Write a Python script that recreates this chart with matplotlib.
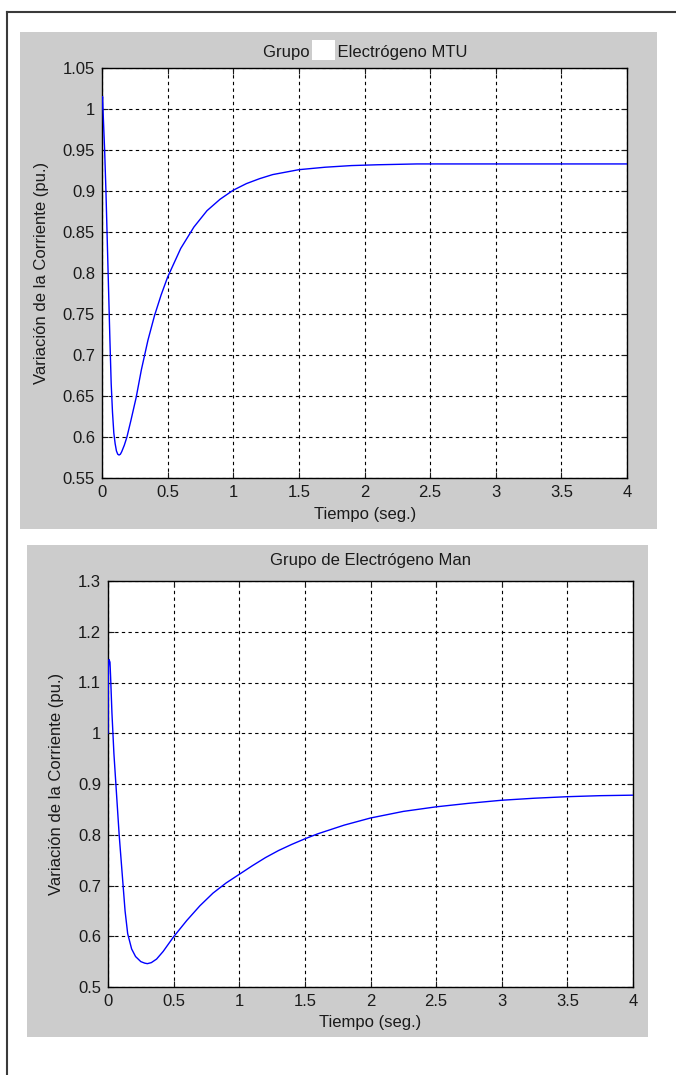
import matplotlib
matplotlib.use("Agg")
import matplotlib.pyplot as plt
from matplotlib.patches import Rectangle
from matplotlib.lines import Line2D

W, H = 676, 1075

# ---- data ----
t_mtu = [0.0, 0.004, 0.01, 0.02, 0.03, 0.04, 0.05, 0.06, 0.07, 0.08, 0.09, 0.10,
         0.11, 0.12, 0.13, 0.14, 0.15, 0.17, 0.19, 0.22, 0.26, 0.30, 0.35, 0.40,
         0.45, 0.50, 0.60, 0.70, 0.80, 0.90, 1.00, 1.10, 1.20, 1.30, 1.40, 1.50,
         1.70, 1.90, 2.10, 2.40, 2.80, 3.20, 3.60, 4.00]
i_mtu = [1.000, 1.015, 0.990, 0.950, 0.900, 0.840, 0.780, 0.720, 0.665, 0.630, 0.605, 0.592,
         0.583, 0.579, 0.578, 0.579, 0.582, 0.590, 0.600, 0.620, 0.648, 0.682, 0.718, 0.748,
         0.773, 0.795, 0.830, 0.856, 0.876, 0.890, 0.901, 0.909, 0.915, 0.920, 0.923, 0.926,
         0.929, 0.931, 0.932, 0.933, 0.933, 0.933, 0.933, 0.933]

t_man = [0.0, 0.003, 0.008, 0.015, 0.02, 0.03, 0.045, 0.06, 0.075, 0.085, 0.10, 0.115,
         0.13, 0.15, 0.18, 0.21, 0.25, 0.28, 0.30, 0.33, 0.37, 0.42, 0.50, 0.60,
         0.70, 0.80, 0.90, 1.00, 1.10, 1.20, 1.30, 1.40, 1.50, 1.60, 1.80, 2.00,
         2.25, 2.50, 2.75, 3.00, 3.25, 3.50, 3.75, 4.00]
i_man = [1.000, 1.130, 1.145, 1.140, 1.110, 1.040, 0.960, 0.900, 0.840, 0.800, 0.750, 0.700,
         0.650, 0.605, 0.575, 0.560, 0.550, 0.547, 0.546, 0.548, 0.555, 0.570, 0.599, 0.631,
         0.660, 0.685, 0.705, 0.722, 0.739, 0.755, 0.769, 0.781, 0.792, 0.802, 0.819, 0.833,
         0.846, 0.855, 0.862, 0.868, 0.872, 0.875, 0.877, 0.878]

xticks = [0, 0.5, 1, 1.5, 2, 2.5, 3, 3.5, 4]
xticklabels = ["0", "0.5", "1", "1.5", "2", "2.5", "3", "3.5", "4"]
yticks_mtu = [0.55, 0.6, 0.65, 0.7, 0.75, 0.8, 0.85, 0.9, 0.95, 1.0, 1.05]
yticklabels_mtu = ["0.55", "0.6", "0.65", "0.7", "0.75", "0.8", "0.85", "0.9", "0.95", "1", "1.05"]
yticks_man = [0.5, 0.6, 0.7, 0.8, 0.9, 1.0, 1.1, 1.2, 1.3]
yticklabels_man = ["0.5", "0.6", "0.7", "0.8", "0.9", "1", "1.1", "1.2", "1.3"]

title_mtu = "Grupo de Electrógeno MTU"
title_mtu_hidden = "de"
title_man = "Grupo de Electrógeno Man"
xlabel = "Tiempo (seg.)"
ylabel = "Variación de la Corriente (pu.)"

plt.rcParams['font.family'] = ['Liberation Sans', 'DejaVu Sans']
FS = 12
GRAY = "#cccccc"
TXT = "#1a1a1a"

fig = plt.figure(figsize=(W / 100, H / 100), dpi=100)
fig.patch.set_facecolor("white")


def fx(x):
    return x / W


def fy(y):
    return 1 - y / H


def rect_px(x0, y0, x1, y1):
    return [fx(x0), fy(y1), (x1 - x0) / W, (y1 - y0) / H]


# outer frame lines
fig.add_artist(Line2D([fx(7), fx(7)], [fy(12), 0], transform=fig.transFigure, color="#3a3a3a", lw=1.5))
fig.add_artist(Line2D([fx(7), 1], [fy(12), fy(12)], transform=fig.transFigure, color="#3a3a3a", lw=1.5))

# gray panels
for (x0, y0, x1, y1) in [(20, 32, 657, 529), (27, 545, 648, 1037)]:
    fig.add_artist(Rectangle((fx(x0), fy(y1)), (x1 - x0) / W, (y1 - y0) / H,
                             transform=fig.transFigure, facecolor=GRAY, edgecolor="none", zorder=0))


def setup(ax, t, v, ylim, yt, ytl):
    ax.plot(t, v, color="#0000ff", lw=1.0, zorder=3)
    ax.set_xlim(0, 4)
    ax.set_ylim(*ylim)
    ax.set_xticks(xticks)
    ax.set_xticklabels(xticklabels)
    ax.set_yticks(yt)
    ax.set_yticklabels(ytl)
    ax.grid(True, color="black", linestyle=(0, (3, 3)), lw=0.8)
    ax.tick_params(direction="in", length=4, width=0.8, labelsize=FS, colors=TXT, top=True, right=True)
    ax.tick_params(axis="x", pad=5)
    ax.tick_params(axis="y", pad=5)
    for s in ax.spines.values():
        s.set_linewidth(1.0)
        s.set_color("black")
    ax.set_facecolor("white")


ax1 = fig.add_axes(rect_px(102, 68, 627, 478))
setup(ax1, t_mtu, i_mtu, (0.55, 1.05), yticks_mtu, yticklabels_mtu)
ax2 = fig.add_axes(rect_px(108, 581, 633, 987))
setup(ax2, t_man, i_man, (0.5, 1.3), yticks_man, yticklabels_man)

# titles
tt = fig.text(fx(365), fy(52), title_mtu, ha="center", va="center", fontsize=FS, color=TXT)
fig.text(fx(370), fy(560), title_man, ha="center", va="center", fontsize=FS, color=TXT)

# white box hiding the word "de" in the first title
fig.canvas.draw()
r = fig.canvas.get_renderer()
bb = tt.get_window_extent(r)
prefix = title_mtu.split(title_mtu_hidden)[0]
tmp = fig.text(0, 0, prefix, fontsize=FS)
wpre = tmp.get_window_extent(r).width
tmp2 = fig.text(0, 0, title_mtu_hidden, fontsize=FS)
wde = tmp2.get_window_extent(r).width
tmp.remove()
tmp2.remove()
bx0 = bb.x0 + wpre - 2
bw = wde + 4
fig.add_artist(Rectangle((bx0 / W, fy(60)), bw / W, 20 / H, transform=fig.transFigure,
                         facecolor="white", edgecolor="none", zorder=5))

# x labels
fig.text(fx(365), fy(514), xlabel, ha="center", va="center", fontsize=FS, color=TXT)
fig.text(fx(370), fy(1023), xlabel, ha="center", va="center", fontsize=FS, color=TXT)

# y labels
fig.text(fx(42), fy(273), ylabel, ha="center", va="center", rotation=90, fontsize=FS, color=TXT)
fig.text(fx(57), fy(784), ylabel, ha="center", va="center", rotation=90, fontsize=FS, color=TXT)

fig.savefig("out.png", dpi=100, facecolor="white")
